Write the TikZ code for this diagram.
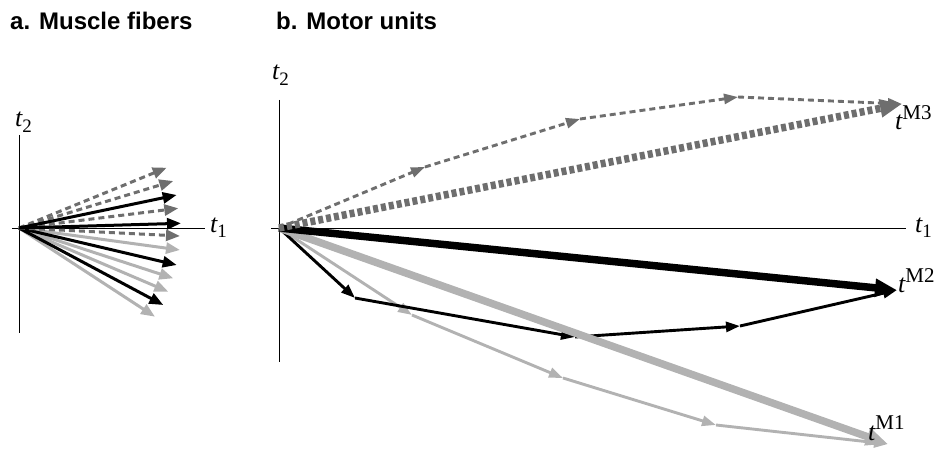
\documentclass[tikz,border=0pt]{standalone}
\usepackage{fontspec}
\setmainfont{Liberation Serif}
\newfontfamily\headfont{Liberation Sans}
\usetikzlibrary{arrows.meta}
\definecolor{dgray}{HTML}{6E6E6E}
\definecolor{lgray}{HTML}{B2B2B2}
\newcommand{\tlab}{\fontsize{26}{26}\selectfont\itshape}
\newcommand{\sublab}{\fontsize{19}{19}\selectfont\upshape}
\newcommand{\suplab}{\fontsize{21}{21}\selectfont\upshape}
\begin{document}
\begin{tikzpicture}[x=1pt,y=-1pt,
  axisline/.style={line width=1pt,black},
  lab/.style={inner sep=0pt,anchor=base west},
  head/.style={inner sep=0pt,anchor=base west,font=\headfont\bfseries\fontsize{24}{24}\selectfont},
  fibarr/.style={line width=3pt,-{Triangle[length=14pt,width=11pt]}},
  fibdash/.style={fibarr,dgray,dash pattern=on 6pt off 4pt},
  fibblack/.style={fibarr,black},
  fiblight/.style={fibarr,lgray},
  segarr/.style={line width=2.9pt,-{Triangle[length=14pt,width=10pt]}},
  segdash/.style={segarr,dgray,dash pattern=on 6pt off 4pt},
  segblack/.style={segarr,black},
  seglight/.style={segarr,lgray},
  bigarr/.style={line width=7.5pt,-{Triangle[length=22pt,width=17pt]}},
  bigdash/.style={bigarr,dgray,dash pattern=on 5pt off 3pt},
  bigblack/.style={bigarr,black},
  biglight/.style={bigarr,lgray}
]
\useasboundingbox (0,0) rectangle (944,449);

% headings
\node[head] (ha) at (10,30) {a. Muscle fibers};
\node[head] (hb) at (276,30) {b. Motor units};

% ---------- panel a ----------
\coordinate (oa) at (19,228);
\coordinate (ax1) at (12,228);
\coordinate (ax2) at (205,228);
\coordinate (ay1) at (19,135);
\coordinate (ay2) at (19,333);
\draw[axisline] (ax1) -- (ax2);
\draw[axisline] (ay1) -- (ay2);
\node[lab] (a-t1) at (210,232) {\tlab t\raisebox{-5pt}{\sublab 1}};
\node[lab] (a-t2) at (15,127) {\tlab t\raisebox{-6pt}{\sublab 2}};

\coordinate (f1) at (166.7,167.7);
\coordinate (f2) at (173.3,181);
\coordinate (f3) at (176.7,195);
\coordinate (f4) at (178.3,208.3);
\coordinate (f5) at (181,223.3);
\coordinate (f6) at (180,236);
\coordinate (f7) at (180,250);
\coordinate (f8) at (176.7,265);
\coordinate (f9) at (173.3,278.3);
\coordinate (f10) at (168.3,291.7);
\coordinate (f11) at (163.3,305);
\coordinate (f12) at (155,316.7);

\draw[fiblight] (oa) -- (f12);
\draw[fiblight] (oa) -- (f10);
\draw[fiblight] (oa) -- (f9);
\draw[fiblight] (oa) -- (f7);
\draw[fibblack] (oa) -- (f11);
\draw[fibblack] (oa) -- (f8);
\draw[fibdash] (oa) -- (f6);
\draw[fibdash] (oa) -- (f4);
\draw[fibdash] (oa) -- (f2);
\draw[fibdash] (oa) -- (f1);
\draw[fibblack] (oa) -- (f5);
\draw[fibblack] (oa) -- (f3);

% ---------- panel b ----------
\coordinate (ob) at (279,228);
\coordinate (bx1) at (271,228);
\coordinate (bx2) at (906,228);
\coordinate (by1) at (279,100);
\coordinate (by2) at (279,362);
\draw[axisline] (bx1) -- (bx2);
\draw[axisline] (by1) -- (by2);
\node[lab] (b-t1) at (915,232) {\tlab t\raisebox{-5pt}{\sublab 1}};
\node[lab] (b-t2) at (272,80) {\tlab t\raisebox{-6pt}{\sublab 2}};

% M3 (dark gray dashed)
\coordinate (m3a) at (425,167);
\coordinate (m3b) at (580,119);
\coordinate (m3c) at (738,97);
\coordinate (m3) at (902,104);
% M2 (black)
\coordinate (m2a) at (355,298);
\coordinate (m2b) at (575,337);
\coordinate (m2c) at (740,326);
\coordinate (m2) at (897,290);
% M1 (light gray)
\coordinate (m1a) at (412,315);
\coordinate (m1b) at (563,378);
\coordinate (m1c) at (716,425);
\coordinate (m1) at (888,444);

\draw[seglight] (ob) -- (m1a);
\draw[seglight] (m1a) -- (m1b);
\draw[seglight] (m1b) -- (m1c);
\draw[seglight] (m1c) -- (m1);

\draw[segblack] (ob) -- (m2a);
\draw[segblack] (m2a) -- (m2b);
\draw[segblack] (m2b) -- (m2c);
\draw[segblack] (m2c) -- (m2);

\draw[segdash] (ob) -- (m3a);
\draw[segdash] (m3a) -- (m3b);
\draw[segdash] (m3b) -- (m3c);
\draw[segdash] (m3c) -- (m3);

\draw[biglight] (ob) -- (m1);
\draw[bigblack] (ob) -- (m2);
\draw[bigdash] (ob) -- (m3);

\node[lab] (l3) at (895,130) {\tlab t\raisebox{10pt}{\suplab M3}};
\node[lab] (l2) at (898,292) {\tlab t\raisebox{10pt}{\suplab M2}};
\node[lab] (l1) at (868,440) {\tlab t\raisebox{11pt}{\suplab M1}};
\end{tikzpicture}
\end{document}
